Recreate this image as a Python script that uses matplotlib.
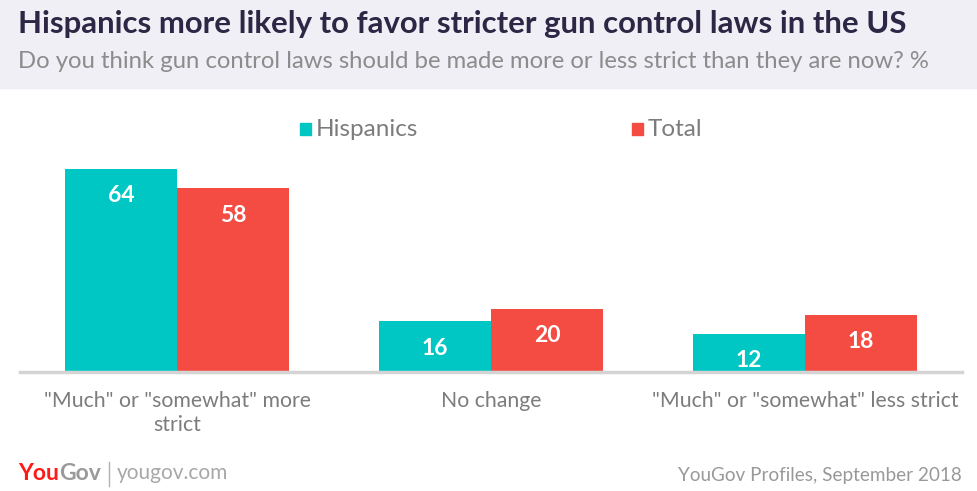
import numpy as np
import matplotlib
matplotlib.use("Agg")
import matplotlib.pyplot as plt

# ------------------------------------------------------------
# Data
# ------------------------------------------------------------
categories = ['"Much" or "somewhat" more\nstrict', 'No change', '"Much" or "somewhat" less strict']
hispanics = [64, 16, 12]
total = [58, 20, 18]
series_names = ['Hispanics', 'Total']

title = 'Hispanics more likely to favor stricter gun control laws in the US'
subtitle = 'Do you think gun control laws should be made more or less strict than they are now? %'
source = 'YouGov Profiles, September 2018'

teal = '#00c7c4'
red = '#f44b42'
grey_txt = '#7c7c7c'

plt.rcParams['font.family'] = ['Lato', 'DejaVu Sans']

W, H = 977, 491
fig = plt.figure(figsize=(W / 100, H / 100), dpi=100)

def fx(px):
    return px / W

def fy(px):
    return 1 - px / H

# header band
fig.patches.append(plt.Rectangle((0, fy(88)), 1, 88 / H, transform=fig.transFigure,
                                 color='#efeff5', zorder=0))
fig.text(fx(18), fy(24), title, fontsize=22.4, fontweight='bold', color='#2d2645',
         va='center', ha='left')
fig.text(fx(18), fy(61), subtitle, fontsize=17.2, fontweight='normal', color='#8c8c8c',
         va='center', ha='left')

# ------------------------------------------------------------
# Bars
# ------------------------------------------------------------
ax = fig.add_axes([fx(20), fy(372), 942 / W, 222 / H])
x = np.arange(len(categories))
w = 0.357
b1 = ax.bar(x - w / 2, hispanics, w, color=teal, label=series_names[0], zorder=2)
b2 = ax.bar(x + w / 2, total, w, color=red, label=series_names[1], zorder=2)

for bars in (b1, b2):
    for b in bars:
        ax.text(b.get_x() + b.get_width() / 2, b.get_height() - 8.5, f'{b.get_height():.0f}',
                ha='center', va='center', color='white', fontsize=16.5, fontweight='bold')

ax.set_xlim(-0.5, 2.5)
ax.set_ylim(0, 70)
ax.set_xticks(x)
ax.set_xticklabels(categories, fontsize=15.3, fontweight='normal', color=grey_txt, linespacing=1.25)
ax.tick_params(axis='x', length=0, pad=14)
ax.set_yticks([])
for s in ['top', 'right', 'left']:
    ax.spines[s].set_visible(False)
ax.spines['bottom'].set_color('#d4d4d4')
ax.spines['bottom'].set_linewidth(2.5)

# legend (two entries placed like the original)
for sx, name, col in [(300, series_names[0], teal), (632, series_names[1], red)]:
    fig.patches.append(plt.Rectangle((fx(sx), fy(135)), 11 / W, 12 / H,
                                     transform=fig.transFigure, color=col))
    fig.text(fx(sx + 16), fy(129), name, fontsize=17.5, fontweight='normal',
             color=grey_txt, va='center')

# footer
fig.canvas.draw()
t1 = fig.text(fx(18), fy(473), 'You', fontsize=16.5, fontweight='bold', color='#ff1a1a',
              va='center', ha='left')
bb = t1.get_window_extent(fig.canvas.get_renderer())
fig.text(bb.x1 / W, fy(473), 'Gov', fontsize=16.5, fontweight='bold', color='#9a9a9a',
         va='center', ha='left')
fig.lines.append(plt.Line2D([fx(109), fx(109)], [fy(462), fy(486)], transform=fig.transFigure,
                            color='#b0b0b0', lw=1))
fig.text(fx(117), fy(473), 'yougov.com', fontsize=15, fontweight='normal', color='#a8a8a8',
         va='center', ha='left')
fig.text(fx(962), fy(475), source, fontsize=13.6, fontweight='normal', color='#999999',
         va='center', ha='right')

fig.savefig('out.png', dpi=100, facecolor='white')
